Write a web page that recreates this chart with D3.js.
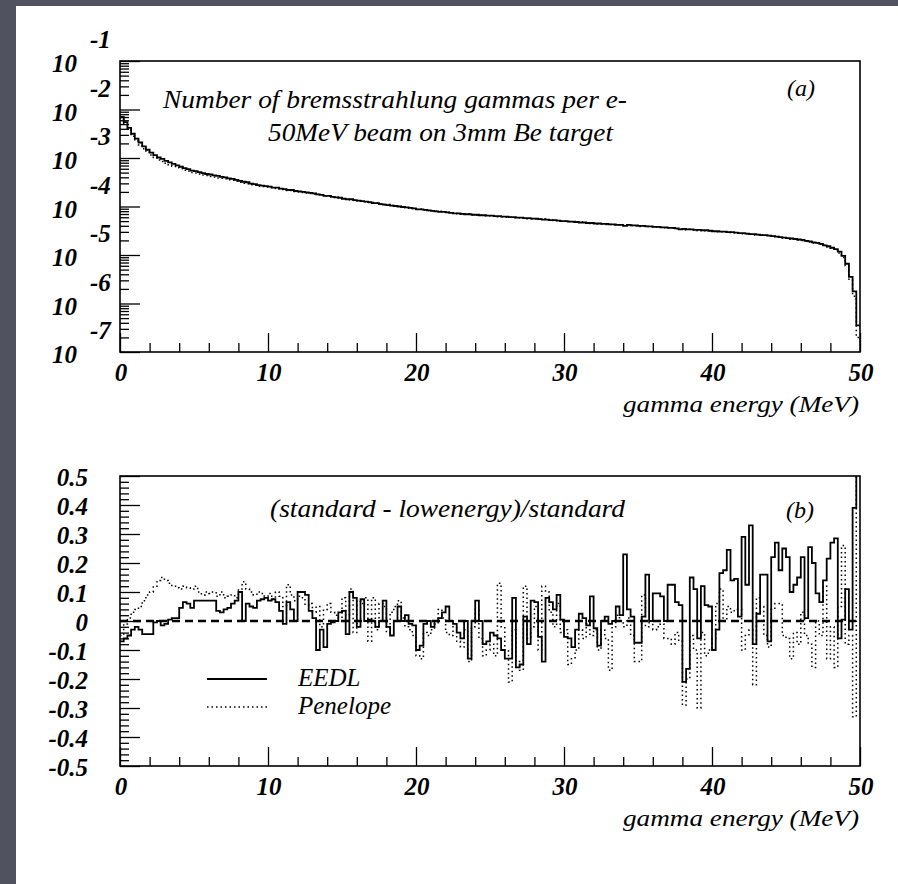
<!DOCTYPE html>
<html lang="en">
<head>
<meta charset="UTF-8">
<title>Bremsstrahlung gammas per electron</title>
<script src="https://d3js.org/d3.v7.min.js"></script>
<style>
  body { margin: 0; background: #50535f; }
  svg { display: block; }
  .lbl { font-family: "Liberation Serif", "Times New Roman", Times, serif; font-style: italic; fill: #000; }
  .tick-lbl { font-weight: bold; font-size: 25px; }
  .axis path.domain { display: none; }
  .axis line { stroke: #000; stroke-width: 1.3px; }
  .frame { fill: none; stroke: #000; stroke-width: 1.6px; }
  .solid { fill: none; stroke: #000; stroke-width: 1.8px; }
  .dotted { fill: none; stroke: #000; stroke-width: 1.5px; stroke-dasharray: 1.5,3; }
</style>
</head>
<body>
<div id="chart"></div>
<script>
// ---- data -------------------------------------------------------------
const binWidth = 0.25; // MeV, 200 bins from 0 to 50

// panel (a): log10 of gammas per e- in each bin
const topSolidLog10 = [
  -2.15,-2.26,-2.38,-2.50,-2.60,-2.68,-2.76,-2.83,-2.89,-2.94,
  -2.99,-3.02,-3.06,-3.09,-3.12,-3.15,-3.18,-3.21,-3.23,-3.26,
  -3.27,-3.29,-3.31,-3.33,-3.34,-3.36,-3.37,-3.39,-3.40,-3.42,
  -3.43,-3.45,-3.47,-3.49,-3.50,-3.53,-3.54,-3.56,-3.57,-3.58,
  -3.59,-3.61,-3.61,-3.63,-3.64,-3.66,-3.66,-3.68,-3.69,-3.70,
  -3.71,-3.72,-3.73,-3.75,-3.76,-3.78,-3.78,-3.80,-3.81,-3.82,
  -3.84,-3.85,-3.85,-3.87,-3.88,-3.89,-3.90,-3.91,-3.93,-3.93,
  -3.95,-3.96,-3.97,-3.98,-3.99,-4.00,-4.01,-4.02,-4.03,-4.04,
  -4.06,-4.06,-4.07,-4.08,-4.09,-4.10,-4.11,-4.11,-4.12,-4.13,
  -4.14,-4.14,-4.15,-4.16,-4.16,-4.17,-4.17,-4.18,-4.18,-4.19,
  -4.19,-4.20,-4.20,-4.21,-4.21,-4.22,-4.22,-4.23,-4.23,-4.24,
  -4.24,-4.25,-4.25,-4.26,-4.27,-4.27,-4.28,-4.28,-4.29,-4.30,
  -4.30,-4.31,-4.31,-4.32,-4.33,-4.33,-4.34,-4.34,-4.35,-4.35,
  -4.36,-4.36,-4.37,-4.37,-4.38,-4.38,-4.40,-4.38,-4.39,-4.39,
  -4.40,-4.40,-4.41,-4.41,-4.42,-4.42,-4.43,-4.43,-4.44,-4.44,
  -4.45,-4.47,-4.46,-4.47,-4.47,-4.48,-4.48,-4.49,-4.49,-4.50,
  -4.51,-4.51,-4.52,-4.52,-4.53,-4.53,-4.54,-4.55,-4.55,-4.56,
  -4.57,-4.57,-4.58,-4.59,-4.59,-4.60,-4.61,-4.62,-4.63,-4.64,
  -4.65,-4.66,-4.67,-4.68,-4.69,-4.71,-4.72,-4.74,-4.75,-4.77,
  -4.80,-4.82,-4.85,-4.88,-4.93,-5.02,-5.18,-5.45,-5.75,-6.45
];
const topDottedLog10 = [
  -2.17,-2.30,-2.42,-2.55,-2.65,-2.73,-2.81,-2.88,-2.94,-2.99,
  -3.04,-3.07,-3.11,-3.14,-3.17,-3.20,-3.22,-3.25,-3.27,-3.30,
  -3.31,-3.33,-3.35,-3.36,-3.38,-3.39,-3.41,-3.42,-3.43,-3.45,
  -3.46,-3.48,-3.50,-3.52,-3.53,-3.55,-3.56,-3.58,-3.59,-3.60,
  -3.61,-3.62,-3.63,-3.64,-3.65,-3.67,-3.67,-3.69,-3.70,-3.71,
  -3.72,-3.73,-3.74,-3.75,-3.76,-3.78,-3.79,-3.80,-3.81,-3.82,
  -3.84,-3.85,-3.86,-3.86,-3.88,-3.89,-3.90,-3.92,-3.92,-3.93,
  -3.95,-3.96,-3.96,-3.98,-3.99,-4.00,-4.01,-4.02,-4.03,-4.04,
  -4.05,-4.05,-4.07,-4.08,-4.09,-4.10,-4.10,-4.11,-4.12,-4.13,
  -4.14,-4.15,-4.16,-4.16,-4.15,-4.17,-4.18,-4.18,-4.19,-4.19,
  -4.19,-4.19,-4.21,-4.21,-4.22,-4.22,-4.23,-4.23,-4.23,-4.24,
  -4.25,-4.25,-4.26,-4.26,-4.26,-4.28,-4.28,-4.29,-4.29,-4.30,
  -4.30,-4.31,-4.32,-4.32,-4.32,-4.34,-4.34,-4.35,-4.34,-4.36,
  -4.36,-4.37,-4.37,-4.38,-4.38,-4.39,-4.39,-4.39,-4.39,-4.40,
  -4.41,-4.40,-4.41,-4.42,-4.42,-4.43,-4.43,-4.44,-4.44,-4.45,
  -4.46,-4.47,-4.48,-4.47,-4.48,-4.48,-4.50,-4.49,-4.50,-4.50,
  -4.51,-4.52,-4.52,-4.53,-4.53,-4.54,-4.54,-4.55,-4.56,-4.56,
  -4.57,-4.59,-4.58,-4.59,-4.60,-4.61,-4.61,-4.62,-4.63,-4.65,
  -4.65,-4.67,-4.67,-4.69,-4.70,-4.71,-4.73,-4.75,-4.76,-4.78,
  -4.80,-4.83,-4.86,-4.90,-4.96,-5.05,-5.22,-5.50,-5.85,-6.70
];

// panel (b): (standard - lowenergy)/standard
const eedl = [
  -0.07,-0.06,-0.05,-0.03,-0.02,-0.03,-0.045,-0.045,-0.045,-0.005,
  0,-0.015,-0.01,0.005,0.01,0.01,0.045,0.065,0.06,0.045,
  0.07,0.07,0.07,0.07,0.07,0.07,0.035,0.03,0.04,0.045,
  0.06,0.07,0.1,0,0.06,0.05,0.045,0.07,0.075,0.08,
  0.07,0.075,0.065,0.035,-0.01,0.065,0.04,0,0.1,0.1,
  0.09,0.035,0.01,-0.1,-0.03,-0.09,-0.01,-0.005,0,0.03,
  0.035,-0.045,0.1,0.08,-0.02,0.075,0,0.005,0,-0.02,
  0,0.07,-0.02,-0.05,0,0.05,0,0.02,-0.01,-0.015,
  -0.1,-0.085,-0.01,0,-0.02,0,0.01,0.03,0.05,0,
  -0.01,-0.04,-0.06,0,-0.13,0,0.07,0,-0.08,-0.07,
  -0.04,-0.05,-0.06,-0.1,-0.13,-0.13,0.08,-0.16,-0.15,0.015,
  -0.08,0.07,0.065,-0.055,-0.14,0.08,0.065,0.04,0.09,0.005,
  -0.055,-0.06,-0.09,-0.03,0.025,0.01,-0.015,0.085,-0.025,-0.085,
  0,0.015,-0.01,0,0.05,0.02,0.23,0.04,0.015,-0.075,
  -0.075,0.015,0.16,0,0.095,0.095,0.085,0,0.125,0.125,
  0.065,0.055,-0.21,-0.165,0.15,0.11,-0.06,0.12,0.055,0.05,
  -0.1,-0.03,0.165,0.175,0.245,0.14,0.145,0.015,0.29,0.125,
  0.33,-0.08,0.025,0.16,0.16,-0.07,0.22,0.27,0.175,0.25,
  0.22,0.1,0.125,0.15,0.22,0.01,0.255,0.2,0.095,0.065,
  0.14,0.215,0.27,0.285,-0.06,0.005,0.11,-0.03,0.39,0.52
];
const penelope = [
  -0.05,-0.01,0.01,0.03,0.04,0.05,0.07,0.09,0.10,0.12,
  0.14,0.15,0.14,0.13,0.12,0.115,0.11,0.12,0.115,0.11,
  0.12,0.10,0.09,0.10,0.095,0.10,0.085,0.10,0.08,0.085,
  0.09,0.08,0.11,0.135,0.11,0.10,0.09,0.10,0.095,0.085,
  0.095,0.075,0.10,0.085,0.05,0.125,0.09,0.07,0.085,0.08,
  0.055,0.06,0.03,0.05,-0.02,0.04,0.06,0.03,0.02,0.01,
  0.08,0.02,0.11,-0.04,0.07,0.06,0.08,-0.07,0.08,-0.03,
  0.06,0.05,-0.04,0.03,0.05,0.07,0.01,-0.02,-0.03,-0.05,
  -0.12,-0.13,-0.04,-0.05,-0.03,-0.01,0.04,0.01,-0.04,-0.05,
  -0.02,-0.07,-0.09,-0.03,-0.14,-0.02,0.04,-0.06,-0.12,-0.1,
  -0.08,-0.12,0.13,-0.02,-0.1,-0.21,-0.03,-0.14,-0.17,0.12,
  -0.06,-0.02,0.05,-0.1,0.12,0.1,0.03,-0.02,0.06,-0.04,
  -0.03,-0.15,-0.13,-0.1,-0.03,-0.06,-0.01,-0.05,-0.03,-0.1,
  -0.03,-0.06,-0.17,-0.02,0.02,0,-0.02,0.01,-0.05,-0.14,
  -0.14,0.09,-0.02,0,-0.03,-0.02,-0.01,-0.06,-0.06,-0.08,
  -0.04,-0.07,-0.29,-0.2,-0.05,-0.1,-0.3,-0.04,-0.12,-0.1,
  -0.06,0.06,0.11,0,0.05,0.03,0.04,0.04,-0.1,-0.05,
  -0.03,-0.22,0.08,0.05,-0.05,-0.09,0.04,0.06,0.06,-0.05,
  -0.06,-0.13,-0.04,-0.08,0.03,-0.05,-0.08,-0.16,0,-0.05,
  0.12,-0.13,-0.02,-0.16,0.05,0.26,-0.08,-0.05,-0.33,0.52
];

const xTickLabels = ["0", "10", "20", "30", "40", "50"];
const topExponentLabels = ["-1", "-2", "-3", "-4", "-5", "-6", "-7"];
const botTickLabels = ["0.5", "0.4", "0.3", "0.2", "0.1", "0", "-0.1", "-0.2", "-0.3", "-0.4", "-0.5"];
const legendNames = ["EEDL", "Penelope"];

// ---- layout -------------------------------------------------------------
const W = 898, H = 884;
const L = 120, R = 860;
const topBox = { y0: 61, y1: 352 };
const botBox = { y0: 476, y1: 766 };

const svg = d3.select("#chart").append("svg")
    .attr("width", W)
    .attr("height", H);

svg.append("rect").attr("width", W).attr("height", H).attr("fill", "#50535f");
svg.append("rect").attr("x", 16).attr("y", 6).attr("width", W - 16).attr("height", H - 6).attr("fill", "#fff");

const x = d3.scaleLinear().domain([0, 50]).range([L, R]);
const yTop = d3.scaleLog().domain([1e-7, 1e-1]).range([topBox.y1, topBox.y0]);
const yBot = d3.scaleLinear().domain([-0.5, 0.5]).range([botBox.y1, botBox.y0]);

const defs = svg.append("defs");
[["clipTop", topBox], ["clipBot", botBox]].forEach(([id, b]) => {
  defs.append("clipPath").attr("id", id)
    .append("rect").attr("x", L).attr("y", b.y0).attr("width", R - L).attr("height", b.y1 - b.y0);
});

// histogram as step line
function stepPoints(vals) {
  const pts = vals.map((v, i) => [i * binWidth, v]);
  pts.push([vals.length * binWidth, vals[vals.length - 1]]);
  return pts;
}
const stepTop = d3.line().curve(d3.curveStepAfter).x(d => x(d[0])).y(d => yTop(Math.pow(10, d[1])));
const stepBot = d3.line().curve(d3.curveStepAfter).x(d => x(d[0])).y(d => yBot(d[1]));

function xAxes(b) {
  const minor = d3.range(0, 51, 2).filter(v => v % 10 !== 0);
  svg.append("g").attr("class", "axis").attr("transform", `translate(0,${b.y1})`)
    .call(d3.axisTop(x).tickValues(minor).tickSize(9).tickFormat(""));
  svg.append("g").attr("class", "axis").attr("transform", `translate(0,${b.y1})`)
    .call(d3.axisTop(x).tickValues(d3.range(0, 51, 10)).tickSize(19).tickFormat(""));
  svg.selectAll(null).data(xTickLabels).enter().append("text")
    .attr("class", "lbl tick-lbl")
    .attr("x", (d, i) => x(i * 10) + 1)
    .attr("y", b.y1 + 29)
    .attr("text-anchor", "middle")
    .text(d => d);
  svg.append("text").attr("class", "lbl")
    .attr("x", R - 1).attr("y", b.y1 + 60)
    .attr("text-anchor", "end")
    .attr("font-size", 24)
    .attr("textLength", 236).attr("lengthAdjust", "spacingAndGlyphs")
    .text("gamma energy (MeV)");
}

// ---- panel (a) ----------------------------------------------------------
const minorLog = [];
for (let e = -7; e < -1; e++) for (let m = 2; m <= 9; m++) minorLog.push(m * Math.pow(10, e));
svg.append("g").attr("class", "axis").attr("transform", `translate(${L},0)`)
  .call(d3.axisRight(yTop).tickValues(minorLog).tickSize(9).tickFormat(""));
svg.append("g").attr("class", "axis").attr("transform", `translate(${L},0)`)
  .call(d3.axisRight(yTop).tickValues(d3.range(-7, 0).map(e => Math.pow(10, e))).tickSize(20).tickFormat(""));
xAxes(topBox);

topExponentLabels.forEach(lab => {
  const yy = yTop(Math.pow(10, +lab));
  svg.append("text").attr("class", "lbl tick-lbl").attr("x", 52).attr("y", yy + 11).text("10");
  svg.append("text").attr("class", "lbl tick-lbl").attr("x", 90).attr("y", yy - 13).text(lab);
});

const gTop = svg.append("g").attr("clip-path", "url(#clipTop)");
gTop.append("path").attr("class", "dotted").attr("d", stepTop(stepPoints(topDottedLog10)));
gTop.append("path").attr("class", "solid").attr("d", stepTop(stepPoints(topSolidLog10)));

svg.append("rect").attr("class", "frame")
  .attr("x", L).attr("y", topBox.y0).attr("width", R - L).attr("height", topBox.y1 - topBox.y0);

svg.append("text").attr("class", "lbl").attr("x", 163).attr("y", 108)
  .attr("font-size", 25).attr("textLength", 464).attr("lengthAdjust", "spacingAndGlyphs")
  .text("Number of bremsstrahlung gammas per e-");
svg.append("text").attr("class", "lbl").attr("x", 268).attr("y", 141)
  .attr("font-size", 25).attr("textLength", 345).attr("lengthAdjust", "spacingAndGlyphs")
  .text("50MeV beam on 3mm Be target");
svg.append("text").attr("class", "lbl").attr("x", 787).attr("y", 96)
  .attr("font-size", 24).text("(a)");

// ---- panel (b) ----------------------------------------------------------
const botMinor = d3.range(-50, 51, 2).filter(v => v % 10 !== 0).map(v => v / 100);
svg.append("g").attr("class", "axis").attr("transform", `translate(${L},0)`)
  .call(d3.axisRight(yBot).tickValues(botMinor).tickSize(9).tickFormat(""));
svg.append("g").attr("class", "axis").attr("transform", `translate(${L},0)`)
  .call(d3.axisRight(yBot).tickValues(botTickLabels.map(Number)).tickSize(20).tickFormat(""));
xAxes(botBox);

svg.selectAll(null).data(botTickLabels).enter().append("text")
  .attr("class", "lbl tick-lbl")
  .attr("x", 88)
  .attr("y", d => yBot(+d) + 10)
  .attr("text-anchor", "end")
  .text(d => d);

const gBot = svg.append("g").attr("clip-path", "url(#clipBot)");
gBot.append("line")
  .attr("x1", L).attr("x2", R).attr("y1", yBot(0)).attr("y2", yBot(0))
  .attr("stroke", "#000").attr("stroke-width", 2.6).attr("stroke-dasharray", "8,5");
gBot.append("path").attr("class", "dotted").attr("d", stepBot(stepPoints(penelope)));
gBot.append("path").attr("class", "solid").attr("d", stepBot(stepPoints(eedl)));

svg.append("rect").attr("class", "frame")
  .attr("x", L).attr("y", botBox.y0).attr("width", R - L).attr("height", botBox.y1 - botBox.y0);

svg.append("text").attr("class", "lbl").attr("x", 270).attr("y", 517)
  .attr("font-size", 25).attr("textLength", 355).attr("lengthAdjust", "spacingAndGlyphs")
  .text("(standard - lowenergy)/standard");
svg.append("text").attr("class", "lbl").attr("x", 786).attr("y", 518)
  .attr("font-size", 24).text("(b)");

// legend
legendNames.forEach((name, i) => {
  const ly = 679 + i * 28;
  svg.append("line").attr("class", i === 0 ? "solid" : "dotted")
    .attr("x1", 207).attr("x2", 267).attr("y1", ly).attr("y2", ly)
    .attr("stroke-width", i === 0 ? 2.4 : 1.5);
  svg.append("text").attr("class", "lbl").attr("x", 298).attr("y", ly + 7)
    .attr("font-size", 25).text(name);
});
</script>
</body>
</html>
